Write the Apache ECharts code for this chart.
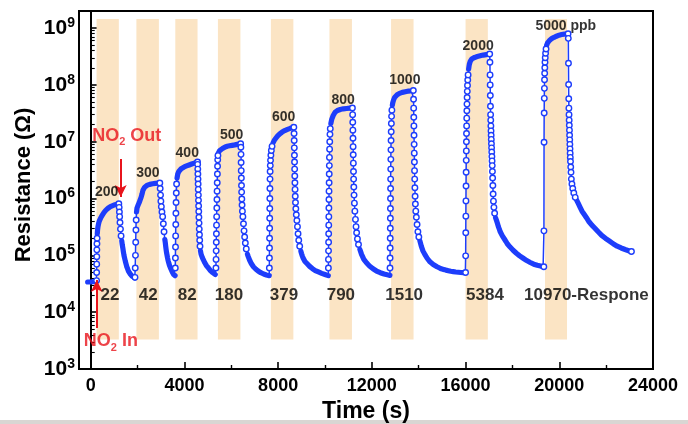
<!DOCTYPE html>
<html>
<head>
<meta charset="utf-8">
<script src="https://cdn.jsdelivr.net/npm/echarts@6/dist/echarts.min.js"></script>
<style>html,body{margin:0;padding:0;background:#fff}#c{width:688px;height:424px}</style>
</head>
<body>
<div id="c"></div>
<script>
// ---- data: [time (s), resistance (ohm)] ----
// each cycle: fast rise (sparse points), saturating top (dense), fast fall (sparse), recovery tail (dense)
const baseline = [[-130,3.4e4],[-60,3.4e4],[0,3.4e4],[60,3.4e4],[120,3.45e4],[180,3.45e4],[240,3.5e4]];

const rise1 = [[250,3.6e4],[253,5e4],[256,7e4],[259,9.5e4],[262,1.25e5],[266,1.6e5],[272,2.0e5]];
const top1 = [[280,2.4e5],[292,2.8e5],[310,3.2e5],[335,3.6e5],[365,4.0e5],[400,4.3e5],[430,4.6e5],[460,4.85e5],[495,5.1e5],[530,5.4e5],[570,5.7e5],[610,6.0e5],[650,6.25e5],[695,6.5e5],[740,6.75e5],[790,7.0e5],[840,7.2e5],[890,7.35e5],[940,7.5e5],[990,7.65e5],[1040,7.8e5],[1090,7.9e5],[1140,8.0e5],[1200,8.1e5]];
const fall1 = [[1215,7.0e5],[1225,5.8e5],[1235,4.8e5],[1250,3.8e5],[1270,2.9e5],[1295,2.2e5]];
const tail1 = [[1325,1.8e5],[1345,1.55e5],[1370,1.35e5],[1395,1.15e5],[1420,1.0e5],[1450,8.8e4],[1480,7.8e4],[1510,7.0e4],[1540,6.3e4],[1575,5.8e4],[1610,5.3e4],[1650,4.95e4],[1690,4.7e4],[1730,4.45e4],[1770,4.3e4],[1810,4.15e4],[1850,4.05e4],[1880,4.0e4]];

const rise2 = [[1890,4.1e4],[1900,6e4],[1910,1.0e5],[1920,1.7e5],[1930,2.8e5],[1940,4.2e5]];
const top2 = [[1955,5.8e5],[1975,6.8e5],[2000,7.3e5],[2030,7.8e5],[2070,8.5e5],[2110,9.5e5],[2150,1.05e6],[2190,1.2e6],[2230,1.4e6],[2260,1.5e6],[2300,1.58e6],[2340,1.65e6],[2380,1.69e6],[2420,1.72e6],[2470,1.75e6],[2520,1.78e6],[2580,1.8e6],[2640,1.82e6],[2700,1.84e6],[2760,1.85e6],[2820,1.86e6],[2880,1.87e6],[2950,1.88e6]];
const fall2 = [[2965,1.5e6],[2980,1.15e6],[2995,9e5],[3015,7.2e5],[3040,5.8e5],[3070,4.8e5],[3100,3.6e5],[3130,2.6e5]];
const tail2 = [[3165,1.9e5],[3185,1.65e5],[3200,1.45e5],[3220,1.25e5],[3240,1.1e5],[3260,1.0e5],[3280,9e4],[3305,8.1e4],[3330,7.4e4],[3360,6.7e4],[3390,6.2e4],[3420,5.8e4],[3450,5.4e4],[3480,5.1e4],[3510,4.8e4],[3540,4.6e4],[3570,4.5e4],[3600,4.4e4]];

const rise3 = [[3610,6e4],[3615,9e4],[3620,1.4e5],[3625,2.2e5],[3630,3.5e5],[3636,5.5e5],[3643,8.5e5],[3652,1.25e6],[3665,1.8e6]];
const top3 = [[3685,2.3e6],[3715,2.7e6],[3740,2.9e6],[3760,3.0e6],[3790,3.12e6],[3820,3.25e6],[3860,3.35e6],[3900,3.45e6],[3945,3.53e6],[3990,3.6e6],[4040,3.68e6],[4090,3.75e6],[4145,3.83e6],[4200,3.9e6],[4255,3.98e6],[4310,4.05e6],[4365,4.12e6],[4420,4.2e6],[4470,4.28e6],[4520,4.35e6],[4560,4.4e6]];
const fall3 = [[4565,4.0e6],[4570,3.3e6],[4575,2.7e6],[4580,2.2e6],[4585,1.8e6],[4590,1.45e6],[4595,1.15e6],[4600,9.3e5],[4606,7.4e5],[4612,5.9e5],[4618,4.7e5],[4625,3.7e5],[4633,2.9e5],[4642,2.3e5],[4652,1.85e5],[4665,1.45e5]];
const tail3 = [[4685,1.2e5],[4710,1.05e5],[4735,9.8e4],[4760,9.2e4],[4785,8.7e4],[4810,8.3e4],[4840,7.8e4],[4870,7.4e4],[4905,7.0e4],[4940,6.6e4],[4980,6.3e4],[5020,6.0e4],[5065,5.7e4],[5110,5.4e4],[5155,5.2e4],[5200,5.0e4],[5240,4.85e4],[5280,4.7e4],[5315,4.6e4],[5340,4.55e4]];

const rise4 = [[5345,6e4],[5350,8.5e4],[5355,1.2e5],[5360,1.7e5],[5365,2.4e5],[5370,3.4e5],[5376,4.8e5],[5382,6.8e5],[5388,9.6e5],[5394,1.35e6],[5400,1.9e6],[5407,2.7e6],[5414,3.7e6],[5421,4.8e6],[5430,5.7e6]];
const top4 = [[5445,6.3e6],[5480,6.8e6],[5505,7.0e6],[5530,7.1e6],[5560,7.25e6],[5590,7.4e6],[5625,7.6e6],[5660,7.8e6],[5700,7.95e6],[5740,8.1e6],[5785,8.23e6],[5830,8.35e6],[5880,8.43e6],[5930,8.5e6],[5985,8.58e6],[6040,8.65e6],[6095,8.72e6],[6150,8.8e6],[6205,8.9e6],[6260,9.0e6],[6310,9.08e6],[6360,9.15e6],[6400,9.2e6]];
const fall4 = [[6410,8.0e6],[6415,6.0e6],[6420,4.3e6],[6425,3.1e6],[6430,2.3e6],[6436,1.7e6],[6442,1.3e6],[6450,9.8e5],[6460,7.7e5],[6475,6.0e5],[6495,4.8e5],[6520,3.6e5],[6545,2.7e5],[6570,2.1e5],[6600,1.65e5],[6640,1.3e5]];
const tail4 = [[6690,1.05e5],[6720,9.6e4],[6750,8.9e4],[6785,8.2e4],[6820,7.6e4],[6860,7.1e4],[6900,6.7e4],[6945,6.3e4],[6990,6.0e4],[7040,5.75e4],[7090,5.5e4],[7145,5.3e4],[7200,5.1e4],[7260,4.95e4],[7320,4.8e4],[7380,4.7e4],[7440,4.6e4],[7500,4.52e4],[7560,4.45e4],[7620,4.4e4]];

const rise5 = [[7625,6e4],[7628,9e4],[7631,1.35e5],[7634,2.0e5],[7637,3.0e5],[7640,4.5e5],[7643,6.7e5],[7646,1.0e6],[7649,1.5e6],[7653,2.2e6],[7658,3.0e6],[7665,3.8e6],[7675,4.7e6],[7690,5.8e6],[7710,7.0e6],[7740,8.3e6]];
const top5 = [[7780,9.5e6],[7805,1.0e7],[7830,1.05e7],[7865,1.1e7],[7900,1.15e7],[7940,1.21e7],[7980,1.27e7],[8025,1.33e7],[8070,1.38e7],[8120,1.43e7],[8170,1.48e7],[8225,1.53e7],[8280,1.57e7],[8340,1.61e7],[8400,1.65e7],[8460,1.69e7],[8520,1.72e7],[8580,1.75e7],[8640,1.78e7],[8670,1.8e7]];
const fall5 = [[8680,1.4e7],[8685,1.05e7],[8690,7.8e6],[8695,5.8e6],[8700,4.4e6],[8705,3.3e6],[8710,2.5e6],[8716,1.9e6],[8722,1.45e6],[8730,1.1e6],[8740,8.5e5],[8755,6.6e5],[8775,5.2e5],[8800,4.1e5],[8825,3.2e5],[8850,2.4e5],[8880,1.85e5],[8920,1.45e5]];
const tail5 = [[8970,1.18e5],[9000,1.07e5],[9030,9.8e4],[9065,9.0e4],[9100,8.3e4],[9145,7.8e4],[9190,7.4e4],[9240,7.1e4],[9290,6.8e4],[9345,6.4e4],[9400,6.1e4],[9460,5.85e4],[9520,5.6e4],[9585,5.4e4],[9650,5.25e4],[9720,5.1e4],[9790,4.95e4],[9860,4.82e4],[9930,4.7e4],[10000,4.6e4],[10060,4.5e4],[10140,4.4e4]];

const rise6 = [[10145,6e4],[10148,8.5e4],[10151,1.2e5],[10154,1.7e5],[10157,2.4e5],[10160,3.4e5],[10163,4.8e5],[10166,6.8e5],[10169,9.6e5],[10172,1.35e6],[10176,1.9e6],[10180,2.7e6],[10185,3.8e6],[10190,5.3e6],[10196,7.4e6],[10203,1.0e7],[10212,1.35e7],[10225,1.7e7]];
const top6 = [[10250,2.1e7],[10270,2.3e7],[10290,2.5e7],[10320,2.7e7],[10350,2.9e7],[10390,3.1e7],[10430,3.3e7],[10480,3.45e7],[10530,3.55e7],[10590,3.63e7],[10650,3.7e7],[10715,3.75e7],[10780,3.8e7],[10850,3.83e7],[10920,3.85e7],[10990,3.88e7],[11060,3.9e7],[11120,3.91e7],[11170,3.92e7]];
const fall6 = [[11180,3.0e7],[11185,2.2e7],[11190,1.6e7],[11195,1.15e7],[11200,8.2e6],[11205,5.9e6],[11210,4.2e6],[11216,3.0e6],[11222,2.2e6],[11230,1.6e6],[11240,1.15e6],[11255,8.3e5],[11275,6.0e5],[11300,4.3e5],[11325,3.2e5],[11350,2.5e5],[11385,1.95e5],[11430,1.55e5]];
const tail6 = [[11490,1.27e5],[11525,1.15e5],[11560,1.04e5],[11605,9.5e4],[11650,8.6e4],[11710,8.0e4],[11770,7.4e4],[11835,6.9e4],[11900,6.5e4],[11975,6.1e4],[12050,5.8e4],[12125,5.55e4],[12200,5.3e4],[12280,5.1e4],[12360,4.95e4],[12440,4.82e4],[12520,4.7e4],[12590,4.62e4],[12660,4.55e4],[12720,4.5e4],[12770,4.45e4]];

const rise7 = [[12775,6e4],[12778,9e4],[12781,1.35e5],[12784,2.0e5],[12787,3.0e5],[12790,4.5e5],[12793,6.7e5],[12796,1.0e6],[12799,1.5e6],[12802,2.2e6],[12806,3.3e6],[12810,4.9e6],[12815,7.2e6],[12820,1.05e7],[12826,1.5e7],[12833,2.1e7],[12842,2.8e7],[12855,3.6e7]];
const top7 = [[12875,4.4e7],[12890,4.8e7],[12905,5.1e7],[12925,5.4e7],[12945,5.7e7],[12970,6.0e7],[13000,6.2e7],[13040,6.45e7],[13080,6.7e7],[13130,6.9e7],[13180,7.1e7],[13240,7.25e7],[13300,7.4e7],[13365,7.5e7],[13430,7.6e7],[13500,7.7e7],[13570,7.8e7],[13635,7.85e7],[13700,7.9e7],[13770,8.0e7]];
const fall7 = [[13780,5.6e7],[13785,3.9e7],[13790,2.7e7],[13795,1.9e7],[13800,1.3e7],[13805,9.0e6],[13810,6.3e6],[13816,4.4e6],[13822,3.1e6],[13829,2.2e6],[13837,1.55e6],[13846,1.1e6],[13858,8.0e5],[13875,6.0e5],[13900,4.7e5],[13930,3.5e5],[13965,2.6e5],[14005,2.1e5]];
const tail7 = [[14050,1.8e5],[14110,1.45e5],[14180,1.2e5],[14260,1.04e5],[14310,9.6e4],[14360,8.9e4],[14420,8.3e4],[14480,7.7e4],[14550,7.3e4],[14620,6.9e4],[14700,6.6e4],[14780,6.3e4],[14870,6.05e4],[14960,5.8e4],[15060,5.65e4],[15160,5.5e4],[15265,5.37e4],[15370,5.25e4],[15475,5.17e4],[15580,5.1e4],[15690,5.05e4],[15800,5.0e4],[15900,4.97e4],[15990,4.95e4]];

const rise8 = [[16000,5.0e4],[16004,9.8e4],[16008,2.5e5],[16012,4.9e5],[16016,9.1e5],[16020,1.66e6],[16024,2.9e6],[16028,4.7e6],[16032,6.9e6],[16036,1.0e7],[16040,1.4e7],[16045,1.9e7],[16050,2.6e7],[16055,3.5e7],[16060,4.6e7],[16066,6.0e7],[16073,7.7e7],[16082,9.8e7],[16093,1.22e8],[16108,1.5e8]];
const top8 = [[16130,1.9e8],[16145,2.1e8],[16160,2.3e8],[16180,2.45e8],[16200,2.6e8],[16230,2.73e8],[16260,2.85e8],[16300,2.93e8],[16340,3.0e8],[16390,3.05e8],[16440,3.1e8],[16500,3.15e8],[16560,3.2e8],[16625,3.25e8],[16690,3.3e8],[16755,3.35e8],[16820,3.4e8],[16885,3.42e8],[16950,3.45e8],[17030,3.5e8]];
const fall8 = [[17040,2.5e8],[17045,1.5e8],[17050,1.0e8],[17056,6.5e7],[17062,4.2e7],[17068,3.0e7],[17074,2.4e7],[17080,1.9e7],[17086,1.55e7],[17092,1.3e7],[17098,1.1e7],[17104,9.2e6],[17110,7.8e6],[17117,6.6e6],[17124,5.5e6],[17131,4.6e6],[17138,3.8e6],[17146,3.0e6],[17155,2.3e6],[17165,1.7e6],[17176,1.2e6],[17190,9.0e5],[17210,7.0e5],[17240,5.5e5]];
const tail8 = [[17280,4.6e5],[17305,4.3e5],[17330,4.0e5],[17365,3.6e5],[17400,3.2e5],[17440,2.9e5],[17480,2.6e5],[17525,2.4e5],[17570,2.2e5],[17620,2.05e5],[17670,1.9e5],[17725,1.75e5],[17780,1.6e5],[17840,1.5e5],[17900,1.4e5],[17965,1.31e5],[18030,1.23e5],[18100,1.16e5],[18170,1.09e5],[18240,1.03e5],[18310,9.8e4],[18385,9.3e4],[18460,8.9e4],[18535,8.5e4],[18610,8.1e4],[18685,7.8e4],[18760,7.5e4],[18835,7.25e4],[18910,7.0e4],[18985,6.85e4],[19060,6.7e4],[19130,6.6e4],[19200,6.5e4],[19260,6.4e4],[19310,6.3e4]];

const rise9 = [[19340,6.3e4],[19345,2.7e5],[19350,9.8e6],[19355,3.2e7],[19360,5.8e7],[19365,8.7e7],[19370,1.23e8],[19376,1.6e8],[19382,2.0e8],[19390,2.5e8],[19400,3.0e8],[19415,3.6e8],[19435,4.3e8]];
const top9 = [[19460,5.0e8],[19480,5.3e8],[19500,5.5e8],[19525,5.7e8],[19550,5.9e8],[19580,6.05e8],[19610,6.2e8],[19650,6.4e8],[19690,6.6e8],[19735,6.75e8],[19780,6.9e8],[19830,7.05e8],[19880,7.2e8],[19935,7.35e8],[19990,7.5e8],[20045,7.6e8],[20100,7.7e8],[20160,7.78e8],[20220,7.85e8],[20275,7.88e8],[20330,7.9e8],[20375,7.95e8]];
const fall9 = [[20385,6.6e8],[20392,2.4e8],[20398,1.02e8],[20404,5.7e7],[20410,3.9e7],[20416,3.0e7],[20422,2.4e7],[20428,1.95e7],[20434,1.6e7],[20440,1.3e7],[20446,1.08e7],[20452,9.0e6],[20458,7.5e6],[20464,6.3e6],[20470,5.3e6],[20478,4.5e6],[20488,3.6e6],[20500,2.9e6],[20515,2.2e6],[20540,1.8e6],[20575,1.5e6],[20620,1.25e6],[20680,1.05e6]];
const tail9 = [[20740,9.4e5],[20775,8.8e5],[20810,8.2e5],[20850,7.6e5],[20890,7.0e5],[20930,6.5e5],[20970,6.0e5],[21015,5.6e5],[21060,5.3e5],[21110,4.95e5],[21160,4.6e5],[21215,4.25e5],[21270,3.9e5],[21330,3.65e5],[21390,3.4e5],[21455,3.2e5],[21520,3.0e5],[21590,2.8e5],[21660,2.6e5],[21735,2.42e5],[21810,2.25e5],[21890,2.12e5],[21970,2.0e5],[22050,1.9e5],[22130,1.8e5],[22215,1.7e5],[22300,1.6e5],[22385,1.52e5],[22470,1.45e5],[22555,1.4e5],[22640,1.35e5],[22725,1.31e5],[22810,1.27e5],[22885,1.24e5],[22960,1.21e5],[23020,1.19e5],[23080,1.17e5]];

// gas exposure windows (s)
const bandStart = [250, 1950, 3610, 5430, 7690, 10190, 12820, 16000, 19390];
const bandEnd   = [1200, 2910, 4560, 6390, 8650, 11150, 13780, 16950, 20330];
const bandLow = 3300, bandHigh = 1.45e9;

// concentration labels (ppb) and anchors [t, R]
const concText = ['200','300','400','500','600','800','1000','2000','5000 ppb'];
const concAt = [[683,1.32e6],[2440,2.85e6],[4121,6.25e6],[6015,1.31e7],[8238,2.69e7],[10776,5.42e7],[13409,1.19e8],[16536,4.9e8],[20278,1.09e9]];
// response labels and anchors
const respText = ['22','42','82','180','379','790','1510','5384','10970-Respone'];
const respT = [823, 2457, 4121, 5900, 8247, 10678, 13379, 16826, 21160];
const respR = 2.0e4;

const xTicks = [0,4000,8000,12000,16000,20000,24000];
const xMinorTicks = [2000,6000,10000,14000,18000,22000];
const yTicks = [1e3,1e4,1e5,1e6,1e7,1e8,1e9];

// ---- assemble ----
const rises = [rise1,rise2,rise3,rise4,rise5,rise6,rise7,rise8,rise9];
const tops  = [top1,top2,top3,top4,top5,top6,top7,top8,top9];
const falls = [fall1,fall2,fall3,fall4,fall5,fall6,fall7,fall8,fall9];
const tails = [tail1,tail2,tail3,tail4,tail5,tail6,tail7,tail8,tail9];
let allData = baseline.slice();
let denseData = baseline.slice();
let sparseData = [];
for (let i = 0; i < 9; i++) {
  allData = allData.concat(rises[i], tops[i], falls[i], tails[i]);
  denseData = denseData.concat(['-'], tops[i], ['-'], tails[i]);
  sparseData = sparseData.concat(rises[i], [tops[i][tops[i].length - 1]], falls[i]);
}
sparseData.push(tail9[tail9.length - 1]);

const yMinor = [];
for (let e = 3; e <= 8; e++) for (let m = 2; m <= 9; m++) yMinor.push(m * Math.pow(10, e));

const FONT = 'Liberation Sans';
const BLUE = '#1D3DFB';
const RED = '#E8141C';

const chart = echarts.init(document.getElementById('c'), null, {renderer: 'canvas'});
chart.setOption({
  animation: false,
  backgroundColor: '#fff',
  grid: {left: 79, right: 35, top: 11, bottom: 55, containLabel: false, outerBoundsMode: 'none',
         show: true, borderColor: '#000', borderWidth: 2, backgroundColor: 'transparent'},
  xAxis: [{
    type: 'value', min: -500, max: 24000,
    axisLine: {lineStyle: {color: '#000', width: 2}},
    axisTick: {inside: true, length: 7, lineStyle: {color: '#000', width: 1.6}, customValues: xTicks},
    axisLabel: {customValues: xTicks, formatter: v => String(v), color: '#000', fontFamily: FONT, fontWeight: 'bold', fontSize: 18, margin: 8},
    splitLine: {show: false},
    name: 'Time (s)', nameLocation: 'middle', nameGap: 30,
    nameTextStyle: {color: '#000', fontFamily: FONT, fontWeight: 'bold', fontSize: 23}
  }, {
    type: 'value', min: -500, max: 24000, position: 'bottom',
    axisLine: {show: true, lineStyle: {color: 'rgba(0,0,0,0)'}},
    axisTick: {show: true, inside: true, length: 4, lineStyle: {color: '#000', width: 1.4}, customValues: xMinorTicks},
    axisLabel: {show: false}, splitLine: {show: false}
  }],
  yAxis: [{
    type: 'log', logBase: 10, min: 1000, max: 2e9,
    axisLine: {show: true, lineStyle: {color: '#000', width: 2}},
    axisTick: {show: true, inside: true, length: 7, lineStyle: {color: '#000', width: 1.6}, customValues: yTicks},
    axisLabel: {
      customValues: yTicks, margin: 4,
      formatter: v => '{a|10}{s|' + Math.round(Math.log10(v)) + '}',
      rich: {
        a: {fontFamily: FONT, fontWeight: 'bold', fontSize: 21, color: '#000', lineHeight: 24},
        s: {fontFamily: FONT, fontWeight: 'bold', fontSize: 14, color: '#000', lineHeight: 14, verticalAlign: 'top'}
      }
    },
    splitLine: {show: false}
  }, {
    type: 'log', logBase: 10, min: 1000, max: 2e9, position: 'left',
    axisLine: {show: true, lineStyle: {color: 'rgba(0,0,0,0)'}},
    axisTick: {show: true, inside: true, length: 4, lineStyle: {color: '#000', width: 1.1}, customValues: yMinor},
    axisLabel: {show: false}, splitLine: {show: false}
  }],
  graphic: [
    {type: 'text', x: 24, y: 185, rotation: Math.PI / 2,
     style: {text: 'Resistance (Ω)', fill: '#000', font: 'bold 22px "Liberation Sans"', align: 'center', verticalAlign: 'middle'}},
    {type: 'rect', shape: {x: 0, y: 420, width: 688, height: 4}, style: {fill: '#D9D6D3'}}
  ],
  series: [
    {
      type: 'line', data: [], z: 1, silent: true,
      markArea: {
        silent: true,
        itemStyle: {color: '#FBE4C4'},
        data: bandStart.map((s, i) => [{coord: [s, bandLow]}, {coord: [bandEnd[i], bandHigh]}])
      }
    },
    {
      type: 'line', data: allData, z: 3, silent: true,
      showSymbol: false, symbol: 'none',
      lineStyle: {color: BLUE, width: 1.5}
    },
    {
      type: 'line', data: denseData, z: 3, silent: true, connectNulls: false,
      showSymbol: false, symbol: 'none',
      lineStyle: {color: BLUE, width: 5.2, cap: 'round', join: 'round'}
    },
    {
      type: 'scatter', data: sparseData, z: 4, silent: true,
      symbol: 'circle', symbolSize: 5.5,
      itemStyle: {color: '#fff', borderColor: BLUE, borderWidth: 1.4, opacity: 1}
    },
    {
      type: 'scatter', z: 5, symbolSize: 0, silent: true,
      data: concText.map((t, i) => ({name: t, value: concAt[i]})),
      label: {show: true, position: 'inside', formatter: p => p.name, color: '#000', fontFamily: FONT, fontWeight: 'bold', fontSize: 14}
    },
    {
      type: 'scatter', z: 5, symbolSize: 0, silent: true,
      data: respText.map((t, i) => ({name: t, value: [respT[i], respR]})),
      label: {show: true, position: 'inside', formatter: p => p.name, color: '#000', fontFamily: FONT, fontWeight: 'bold', fontSize: 17}
    },
    {
      type: 'scatter', z: 6, symbolSize: 0, silent: true,
      data: [{name: 'out', value: [1536, 1.28e7]}, {name: 'in', value: [858, 3.07e3]}],
      label: {
        show: true, position: 'inside',
        formatter: p => p.name === 'out' ? '{a|NO}{b|2}{a| Out}' : '{a|NO}{b|2}{a| In}',
        rich: {
          a: {color: RED, fontFamily: FONT, fontWeight: 'bold', fontSize: 18, lineHeight: 24},
          b: {color: RED, fontFamily: FONT, fontWeight: 'bold', fontSize: 11, lineHeight: 12, verticalAlign: 'bottom'}
        }
      },
      markLine: {
        silent: true, symbol: ['none', 'arrow'], symbolSize: [9, 12],
        label: {show: false},
        lineStyle: {color: RED, width: 2, type: 'solid'},
        data: [
          [{coord: [1280, 4.97e6]}, {coord: [1280, 1.06e6]}],
          [{coord: [256, 5.26e3]}, {coord: [256, 3.68e4]}]
        ]
      }
    }
  ]
});
</script>
</body>
</html>
